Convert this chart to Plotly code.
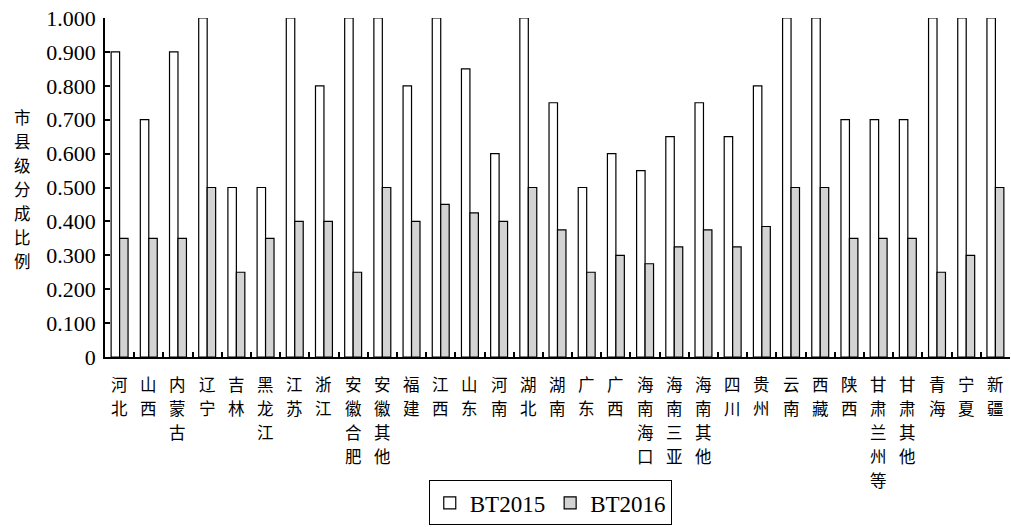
import plotly.graph_objects as go

categories = ["河北", "山西", "内蒙古", "辽宁", "吉林", "黑龙江", "江苏", "浙江", "安徽合肥", "安徽其他",
              "福建", "江西", "山东", "河南", "湖北", "湖南", "广东", "广西", "海南海口", "海南三亚",
              "海南其他", "四川", "贵州", "云南", "西藏", "陕西", "甘肃兰州等", "甘肃其他", "青海", "宁夏", "新疆"]
bt2015 = [0.9, 0.7, 0.9, 1.0, 0.5, 0.5, 1.0, 0.8, 1.0, 1.0,
          0.8, 1.0, 0.85, 0.6, 1.0, 0.75, 0.5, 0.6, 0.55, 0.65,
          0.75, 0.65, 0.8, 1.0, 1.0, 0.7, 0.7, 0.7, 1.0, 1.0, 1.0]
bt2016 = [0.35, 0.35, 0.35, 0.5, 0.25, 0.35, 0.4, 0.4, 0.25, 0.5,
          0.4, 0.45, 0.425, 0.4, 0.5, 0.375, 0.25, 0.3, 0.275, 0.325,
          0.375, 0.325, 0.385, 0.5, 0.5, 0.35, 0.35, 0.35, 0.25, 0.3, 0.5]
ytick_vals = [0, 0.1, 0.2, 0.3, 0.4, 0.5, 0.6, 0.7, 0.8, 0.9, 1.0]
ytick_text = ["0", "0.100", "0.200", "0.300", "0.400", "0.500", "0.600", "0.700", "0.800", "0.900", "1.000"]
y_title = "市县级分成比例"
series_names = ["BT2015", "BT2016"]

SERIF = "Liberation Serif"
CJK = "Noto Sans CJK SC"
PLOT_TOP, PLOT_BOTTOM = 18, 357
PLOT_H = PLOT_BOTTOM - PLOT_TOP


def py(pixel_y):
    return (PLOT_BOTTOM - pixel_y) / PLOT_H


fig = go.Figure()
fig.add_trace(go.Bar(x=categories, y=bt2015, name=series_names[0],
                     marker=dict(color="white", line=dict(color="black", width=1.2))))
fig.add_trace(go.Bar(x=categories, y=bt2016, name=series_names[1],
                     marker=dict(color="#d3d3d3", line=dict(color="black", width=1.2))))

fig.update_layout(
    width=1011, height=527,
    margin=dict(l=105, r=1, t=PLOT_TOP, b=527 - PLOT_BOTTOM, autoexpand=False),
    plot_bgcolor="white", paper_bgcolor="white",
    barmode="group", bargap=0.42, bargroupgap=0,
    font=dict(family=SERIF, size=20, color="black"),
    showlegend=True,
    legend=dict(orientation="h", x=0.492, xanchor="center", y=-0.364, yanchor="top",
                bordercolor="black", borderwidth=1, font=dict(family=SERIF, size=23),
                itemwidth=30, tracegroupgap=0),
    xaxis=dict(type="category", showticklabels=False,
               tickson="boundaries", ticks="inside", ticklen=5, tickwidth=2, tickcolor="black",
               showline=True, linecolor="black", linewidth=2, showgrid=False,
               range=[-0.5, len(categories) - 0.5]),
    yaxis=dict(range=[0, 1.0], tickmode="array", tickvals=ytick_vals, ticktext=ytick_text,
               ticks="inside", ticklen=5, tickwidth=1.5, tickcolor="black",
               showline=True, linecolor="black", linewidth=1.5, showgrid=False, zeroline=False,
               tickfont=dict(family=SERIF, size=22), ticklabelstandoff=3),
)

# category labels written vertically, one character per line, placed at each category
lab_top, lab_pitch = 384, 24
for cat in categories:
    for j, ch in enumerate(cat):
        fig.add_annotation(text=ch, xref="x", yref="paper", x=cat, y=py(lab_top + j * lab_pitch),
                           xanchor="center", yanchor="middle", showarrow=False, borderpad=0,
                           font=dict(family=CJK, size=16.5, color="black"))

# vertical y-axis title, one character per line
top_c, pitch = 117, 24
for i, ch in enumerate(y_title):
    fig.add_annotation(text=ch, xref="paper", yref="paper",
                       x=(22 - 105) / 905, y=py(top_c + i * pitch), xanchor="center", yanchor="middle",
                       showarrow=False, borderpad=0, font=dict(family=CJK, size=16.5, color="black"))

fig.write_html("out.html", config={"displayModeBar": False},
               post_script="document.body.style.margin='0';document.body.style.overflow='hidden';")
